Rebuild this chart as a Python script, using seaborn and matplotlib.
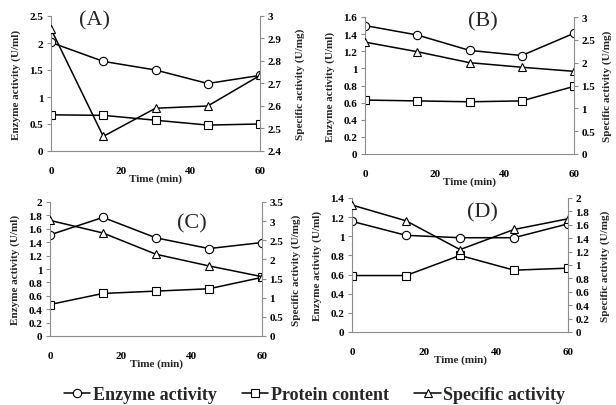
import numpy as np
import pandas as pd
import matplotlib
matplotlib.use("Agg")
import matplotlib.pyplot as plt
from matplotlib.lines import Line2D
from matplotlib.ticker import FuncFormatter, MultipleLocator
import seaborn as sns

sns.set_theme(style="white")
plt.rcParams['font.family'] = ['Liberation Serif', 'DejaVu Serif']
plt.rcParams['font.weight'] = 'bold'

time = [0, 15, 30, 45, 60]

# Panel A
enzyme_A = [2.01, 1.66, 1.50, 1.25, 1.40]
protein_A = [0.67, 0.66, 0.57, 0.48, 0.50]
specific_A = [2.942, 2.465, 2.59, 2.60, 2.736]
# Panel B
enzyme_B = [1.50, 1.39, 1.21, 1.15, 1.41]
protein_B = [0.63, 0.62, 0.61, 0.62, 0.79]
specific_B = [2.45, 2.24, 2.00, 1.90, 1.81]
# Panel C
enzyme_C = [1.51, 1.77, 1.465, 1.305, 1.395]
protein_C = [0.47, 0.635, 0.67, 0.705, 0.875]
specific_C = [3.02, 2.69, 2.135, 1.83, 1.55]
# Panel D
enzyme_D = [1.156, 1.01, 0.985, 0.985, 1.13]
protein_D = [0.59, 0.59, 0.80, 0.646, 0.667]
specific_D = [1.895, 1.66, 1.23, 1.53, 1.69]

panel_labels = ["(A)", "(B)", "(C)", "(D)"]
series_names = ["Enzyme activity", "Protein content", "Specific activity"]
xlabel = "Time (min)"
ylabel_left = "Enzyme activity (U/ml)"
ylabel_right = "Specific activity (U/mg)"

panels = [
    dict(e=enzyme_A, p=protein_A, s=specific_A, lim=(0, 2.5), lstep=0.5, rlim=(2.4, 3.0), rstep=0.1,
         pos=[51, 17, 260, 152], lab=(95, 21), rpad=10),
    dict(e=enzyme_B, p=protein_B, s=specific_B, lim=(0, 1.6), lstep=0.2, rlim=(0, 3.0), rstep=0.5,
         pos=[365, 18, 574, 155], lab=(483, 22), rpad=5),
    dict(e=enzyme_C, p=protein_C, s=specific_C, lim=(0, 2.0), lstep=0.2, rlim=(0, 3.5), rstep=0.5,
         pos=[50, 203, 262, 337], lab=(192, 224), rpad=6),
    dict(e=enzyme_D, p=protein_D, s=specific_D, lim=(0, 1.4), lstep=0.2, rlim=(0, 2.0), rstep=0.2,
         pos=[352, 199, 568, 333], lab=(482, 213), rpad=8),
]

W, H = 616, 406
fig = plt.figure(figsize=(W / 100, H / 100), dpi=100)
grey = "#8c8c8c"
fmt = FuncFormatter(lambda v, _: ("%.1f" % v).rstrip('0').rstrip('.') if abs(v) > 1e-9 else "0")
line_kw = dict(color="black", linewidth=1.1, markersize=6, markerfacecolor="white",
               markeredgecolor="black", markeredgewidth=0.8)
tick_fs = 8
all_axes = []

for i, pn in enumerate(panels):
    x0, y0, x1, y1 = pn["pos"]
    ax = fig.add_axes([x0 / W, 1 - y1 / H, (x1 - x0) / W, (y1 - y0) / H])
    ax2 = ax.twinx()
    all_axes += [ax, ax2]
    df = pd.DataFrame({"Time": time, "Enzyme": pn["e"], "Protein": pn["p"], "Specific": pn["s"]})
    sns.lineplot(data=df, x="Time", y="Enzyme", ax=ax, marker="o", **line_kw)
    sns.lineplot(data=df, x="Time", y="Protein", ax=ax, marker="s", **line_kw)
    sns.lineplot(data=df, x="Time", y="Specific", ax=ax2, marker="^", **line_kw)
    for a in (ax, ax2):
        a.set_xlim(0, 60)
        a.spines["top"].set_visible(False)
        for s in ("left", "right", "bottom"):
            a.spines[s].set_color(grey)
            a.spines[s].set_linewidth(0.8)
        a.tick_params(colors=grey, labelcolor="black", labelsize=tick_fs, length=3, width=0.8,
                      direction="out", pad=2.5)
        a.patch.set_alpha(0)
    ax.spines["right"].set_visible(False)
    ax2.spines["left"].set_visible(False)
    ax2.spines["bottom"].set_visible(False)
    ax.set_ylim(*pn["lim"])
    ax.yaxis.set_major_locator(MultipleLocator(pn["lstep"]))
    ax.yaxis.set_major_formatter(fmt)
    ax2.set_ylim(*pn["rlim"])
    ax2.yaxis.set_major_locator(MultipleLocator(pn["rstep"]))
    ax2.yaxis.set_major_formatter(fmt)
    ax.xaxis.set_major_locator(MultipleLocator(20))
    ax.tick_params(axis="x", pad=8)
    ax.set_xlabel(xlabel, fontsize=tick_fs, fontweight="bold", labelpad=-1)
    ax.set_ylabel(ylabel_left, fontsize=tick_fs, fontweight="bold", labelpad=6)
    ax2.set_ylabel(ylabel_right, fontsize=tick_fs, fontweight="bold", labelpad=pn["rpad"])
    lx, ly = pn["lab"]
    fig.text(lx / W, 1 - ly / H, panel_labels[i], fontsize=16, fontweight="normal",
             ha="center", va="center")

handles = [Line2D([], [], marker=m, **line_kw) for m in ("o", "s", "^")]
fig.legend(handles, series_names, loc="center", bbox_to_anchor=(0.511, 1 - 396 / H), ncol=3,
           frameon=False, prop=dict(size=13, weight="bold"), handlelength=1.45,
           handletextpad=0.15, columnspacing=1.4, borderpad=0, borderaxespad=0)

fig.canvas.draw()
for a in all_axes:
    for lbl in a.get_xticklabels() + a.get_yticklabels():
        lbl.set_fontweight("bold")

fig.savefig("out.png", dpi=100)
